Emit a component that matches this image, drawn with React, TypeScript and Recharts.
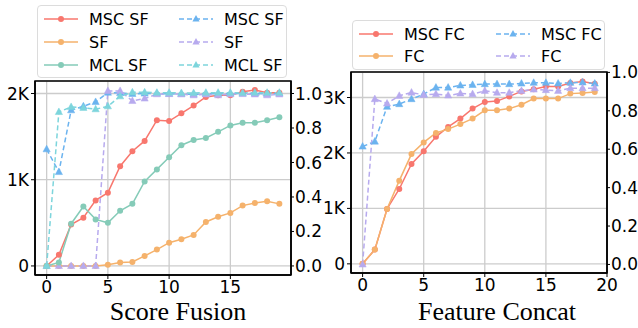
import React from 'react';
import { LineChart, Line, XAxis, YAxis, CartesianGrid, ReferenceArea } from 'recharts';

// epochs (shared by both panels)
const epochs = [0, 1, 2, 3, 4, 5, 6, 7, 8, 9, 10, 11, 12, 13, 14, 15, 16, 17, 18, 19];

// Score Fusion panel: counts on the left axis, ratio on the right axis
const mscSfCount = [0, 130, 480, 560, 760, 850, 1157, 1330, 1450, 1690, 1680, 1770, 1860, 1960, 1980, 1980, 2020, 2040, 2010, 2010];
const sfCount = [0, 0, 0, 0, 0, 15, 40, 47, 116, 190, 270, 310, 360, 510, 570, 615, 700, 730, 750, 720];
const mclSfCount = [0, 40, 490, 690, 540, 500, 640, 720, 980, 1120, 1260, 1400, 1460, 1485, 1555, 1630, 1660, 1660, 1690, 1725];
const mscSfRatio = [0.677, 0.545, 0.903, 0.926, 0.951, 1.005, 1.003, 0.998, 1.0, 1.0, 0.998, 0.997, 0.995, 0.998, 0.998, 1.0, 1.0, 1.0, 0.998, 1.0];
const sfRatio = [0, 0, 0, 0, 0, 1.015, 1.015, 0.957, 0.971, 0.996, 0.997, 0.996, 0.99, 0.995, 0.99, 0.996, 0.997, 0.995, 0.99, 0.995];
const mclSfRatio = [0, 0.893, 0.922, 0.917, 0.909, 0.926, 0.984, 1.007, 1.007, 1.005, 1.005, 1.003, 1.003, 1.005, 1.005, 1.005, 1.003, 1.005, 1.005, 1.005];

// Feature Concat panel
const mscFcCount = [0, 257, 990, 1350, 1800, 2030, 2290, 2470, 2620, 2800, 2920, 2935, 3020, 3110, 3150, 3200, 3200, 3260, 3290, 3250];
const fcCount = [0, 257, 990, 1500, 1980, 2190, 2360, 2430, 2520, 2620, 2770, 2770, 2800, 2870, 2980, 2980, 2980, 3070, 3080, 3100];
const mscFcRatio = [0.614, 0.64, 0.821, 0.835, 0.861, 0.887, 0.921, 0.921, 0.932, 0.935, 0.939, 0.939, 0.939, 0.942, 0.946, 0.946, 0.942, 0.946, 0.948, 0.942];
const fcRatio = [0, 0.861, 0.838, 0.878, 0.895, 0.883, 0.887, 0.88, 0.89, 0.887, 0.904, 0.894, 0.894, 0.904, 0.911, 0.908, 0.904, 0.918, 0.918, 0.918];

const countTicks = [0, 1000, 2000, 3000];
const ratioTicks = [0, 0.2, 0.4, 0.6, 0.8, 1.0];
const xTicksSf = [0, 5, 10, 15];
const xTicksFc = [0, 5, 10, 15, 20];

const RED = '#F8776E';
const ORANGE = '#F5B26C';
const TEAL = '#85CBB8';
const BLUE = '#6BB3EF';
const PURPLE = '#B7AAEE';
const CYAN = '#7DD5DC';

type Series = { key: string; name: string; color: string; values: number[]; axis: 'left' | 'right' };

const sfSeries: Series[] = [
  { key: 'mscSfCount', name: 'MSC SF', color: RED, values: mscSfCount, axis: 'left' },
  { key: 'mscSfRatio', name: 'MSC SF', color: BLUE, values: mscSfRatio, axis: 'right' },
  { key: 'sfCount', name: 'SF', color: ORANGE, values: sfCount, axis: 'left' },
  { key: 'sfRatio', name: 'SF', color: PURPLE, values: sfRatio, axis: 'right' },
  { key: 'mclSfCount', name: 'MCL SF', color: TEAL, values: mclSfCount, axis: 'left' },
  { key: 'mclSfRatio', name: 'MCL SF', color: CYAN, values: mclSfRatio, axis: 'right' },
];

const fcSeries: Series[] = [
  { key: 'mscFcCount', name: 'MSC FC', color: RED, values: mscFcCount, axis: 'left' },
  { key: 'mscFcRatio', name: 'MSC FC', color: BLUE, values: mscFcRatio, axis: 'right' },
  { key: 'fcCount', name: 'FC', color: ORANGE, values: fcCount, axis: 'left' },
  { key: 'fcRatio', name: 'FC', color: PURPLE, values: fcRatio, axis: 'right' },
];

const buildRows = (series: Series[]) =>
  epochs.map((e, i) => {
    const row: any = { epoch: e };
    series.forEach((s) => (row[s.key] = s.values[i]));
    return row;
  });

const tickStyle = { fontSize: 17, fill: '#000', fontFamily: 'DejaVu Sans' };

const Triangle = (props: any) => {
  const { cx, cy, stroke, index } = props;
  if (cx == null || cy == null) return <g key={`t-${index}`} />;
  return (
    <polygon
      key={`t-${index}`}
      points={`${cx},${cy - 4} ${cx - 3.6},${cy + 2.6} ${cx + 3.6},${cy + 2.6}`}
      fill={stroke}
      stroke={stroke}
      strokeWidth={0.5}
    />
  );
};

function LegendSwatch({ color, dashed }: { color: string; dashed: boolean }) {
  return (
    <svg width={34} height={10} style={{ display: 'block' }}>
      <line x1={0} y1={5} x2={34} y2={5} stroke={color} strokeWidth={1.5} strokeDasharray={dashed ? '5 3' : undefined} />
      {dashed ? (
        <polygon points="17,1 13.4,7.6 20.6,7.6" fill={color} />
      ) : (
        <circle cx={17} cy={5} r={3} fill={color} />
      )}
    </svg>
  );
}

function LegendBox({ series, style, rowH, col2 }: { series: Series[]; style: React.CSSProperties; rowH: number; col2: number }) {
  return (
    <div
      style={{
        position: 'absolute',
        border: '1px solid #dcdcdc',
        borderRadius: 4,
        background: 'rgba(255,255,255,0.85)',
        boxSizing: 'border-box',
        fontFamily: 'DejaVu Sans',
        fontSize: 16,
        color: '#000',
        ...style,
      }}
    >
      {series.map((s, i) => {
        const row = Math.floor(i / 2);
        const col = i % 2;
        return (
          <div
            key={s.key}
            style={{
              position: 'absolute',
              left: col === 0 ? 6 : col2,
              top: 4 + row * rowH,
              height: 18,
              display: 'flex',
              alignItems: 'center',
              whiteSpace: 'nowrap',
            }}
          >
            <LegendSwatch color={s.color} dashed={s.axis === 'right'} />
            <span style={{ marginLeft: 11 }}>{s.name}</span>
          </div>
        );
      })}
    </div>
  );
}

function Panel({
  series,
  width,
  margin,
  xHeight,
  xDomain,
  xTicks,
  countDomain,
  countTicksUsed,
  ratioDomain,
}: {
  series: Series[];
  width: number;
  margin: { top: number; right: number; bottom: number; left: number };
  xHeight: number;
  xDomain: [number, number];
  xTicks: number[];
  countDomain: [number, number];
  countTicksUsed: number[];
  ratioDomain: [number, number];
}) {
  const rows = buildRows(series);
  return (
    <LineChart width={width} height={328} data={rows} margin={margin}>
      <CartesianGrid yAxisId="left" stroke="#cccccc" strokeWidth={1.3} />
      <XAxis
        dataKey="epoch"
        type="number"
        domain={xDomain}
        ticks={xTicks}
        allowDataOverflow
        height={xHeight}
        tick={tickStyle}
        tickSize={4}
        tickMargin={2}
        stroke="#000"
        axisLine={{ stroke: '#000', strokeWidth: 1.5 }}
      />
      <YAxis
        yAxisId="left"
        orientation="left"
        width={30}
        domain={countDomain}
        ticks={countTicksUsed}
        allowDataOverflow
        tick={tickStyle}
        tickSize={4}
        tickMargin={2}
        stroke="#000"
        axisLine={{ stroke: '#000', strokeWidth: 1.5 }}
        tickFormatter={(v: number) => (v === 0 ? '0' : `${v / 1000}K`)}
      />
      <YAxis
        yAxisId="right"
        orientation="right"
        width={30}
        domain={ratioDomain}
        ticks={ratioTicks}
        allowDataOverflow
        tick={tickStyle}
        tickSize={3}
        tickMargin={1}
        stroke="#000"
        axisLine={{ stroke: '#000', strokeWidth: 1.5 }}
        tickFormatter={(v: number) => v.toFixed(1)}
      />
      <ReferenceArea
        yAxisId="left"
        x1={xDomain[0]}
        x2={xDomain[1]}
        y1={countDomain[0]}
        y2={countDomain[1]}
        fill="none"
        stroke="#000"
        strokeWidth={1.5}
        ifOverflow="visible"
      />
      {series.map((s) => (
        <Line
          key={s.key}
          yAxisId={s.axis}
          dataKey={s.key}
          name={s.name}
          type="linear"
          stroke={s.color}
          strokeWidth={1.5}
          strokeDasharray={s.axis === 'right' ? '5 3' : undefined}
          dot={s.axis === 'right' ? Triangle : { r: 3, fill: s.color, stroke: s.color, strokeWidth: 0 }}
          activeDot={false}
          isAnimationActive={false}
        />
      ))}
    </LineChart>
  );
}

const titleStyle: React.CSSProperties = {
  position: 'absolute',
  top: 299,
  width: 200,
  textAlign: 'center',
  fontFamily: 'Liberation Serif',
  fontSize: 26,
  lineHeight: 1,
  color: '#000',
};

export default function App() {
  return (
    <div style={{ position: 'absolute', left: 0, top: 0, width: 638, height: 328, background: '#fff', overflow: 'hidden' }}>
      <div style={{ position: 'absolute', left: 0, top: 0 }}>
        <Panel
          series={sfSeries}
          width={330}
          margin={{ top: 81, right: 9, bottom: 0, left: 5 }}
          xHeight={53}
          xDomain={[-0.95, 19.95]}
          xTicks={xTicksSf}
          countDomain={[-105, 2145]}
          countTicksUsed={countTicks.slice(0, 3)}
          ratioDomain={[-0.0525, 1.0725]}
        />
      </div>
      <div style={{ position: 'absolute', left: 320, top: 0 }}>
        <Panel
          series={fcSeries}
          width={318}
          margin={{ top: 72, right: 1, bottom: 0, left: 1 }}
          xHeight={55}
          xDomain={[-0.95, 20]}
          xTicks={xTicksFc}
          countDomain={[-165, 3460]}
          countTicksUsed={countTicks}
          ratioDomain={[-0.0445, 1.002]}
        />
      </div>
      <LegendBox series={sfSeries} style={{ left: 37, top: 5, width: 250, height: 73 }} rowH={23} col2={141} />
      <LegendBox series={fcSeries} style={{ left: 352, top: 20, width: 253, height: 50 }} rowH={22} col2={143} />
      <div style={{ ...titleStyle, left: 78 }}>Score Fusion</div>
      <div style={{ ...titleStyle, left: 397 }}>Feature Concat</div>
    </div>
  );
}
